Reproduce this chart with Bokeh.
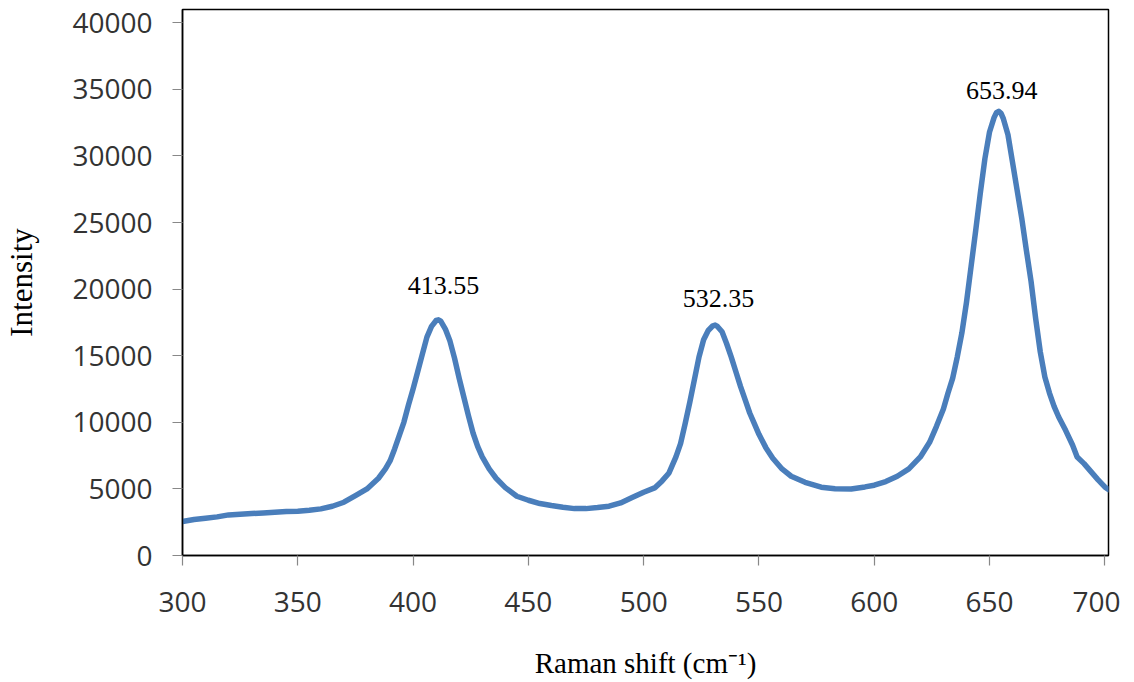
from bokeh.plotting import figure
from bokeh.models import Range1d, FixedTicker, NumeralTickFormatter, ColumnDataSource
from bokeh.core.properties import value
from bokeh.embed import file_html
from bokeh.resources import INLINE

# Raman spectrum
shift = [300, 305, 310, 315, 320, 325, 330, 335, 340, 345, 350, 355, 360, 365, 370,
         375, 380, 385, 388, 390, 392, 394, 396, 398, 400, 402, 404, 406, 408, 410,
         411, 412, 414, 416, 418, 420, 422, 424, 426, 428, 430, 433, 436, 440, 445,
         450, 455, 460, 465, 470, 475, 480, 485, 490, 495, 500, 505, 508, 511, 514,
         516, 518, 520, 522, 524, 526, 528, 530, 531, 532, 534, 536, 538, 540, 542,
         544, 546, 548, 550, 553, 556, 560, 564, 570, 577, 583, 590, 596, 600, 605,
         610, 615, 620, 624, 627, 630, 632, 634, 636, 638, 640, 642, 644, 646, 648,
         650, 652, 653, 654, 655, 656, 658, 660, 662, 664, 666, 668, 670, 672, 674,
         676, 678, 680, 683, 686, 688, 691, 694, 697, 700, 701.6]
intensity = [2550, 2700, 2800, 2900, 3050, 3100, 3150, 3200, 3250, 3300, 3320, 3400, 3500, 3700, 4000,
             4500, 5000, 5800, 6500, 7100, 8000, 9000, 10000, 11300, 12500, 13800, 15100, 16400, 17200, 17650,
             17700, 17600, 17000, 16100, 14800, 13300, 11900, 10500, 9200, 8200, 7400, 6500, 5800, 5100, 4450,
             4150, 3900, 3750, 3620, 3520, 3520, 3600, 3700, 3950, 4350, 4750, 5100, 5600, 6200, 7400,
             8400, 9900, 11500, 13200, 14900, 16200, 16900, 17250, 17300, 17200, 16800, 15900, 14900, 13800, 12700,
             11700, 10700, 9900, 9100, 8100, 7300, 6500, 5950, 5500, 5130, 5020, 5000, 5150, 5280, 5550,
             5950, 6500, 7400, 8500, 9700, 11000, 12200, 13300, 14900, 16700, 19000, 21700, 24400, 27200, 29800,
             31800, 32900, 33250, 33350, 33200, 32800, 31600, 29500, 27400, 25300, 22900, 20600, 17800, 15300, 13400,
             12200, 11200, 10400, 9400, 8300, 7400, 6900, 6300, 5700, 5150, 4950]

peak_labels = ["413.55", "532.35", "653.94"]
peak_x = [413.2, 532.5, 655.3]
peak_y = [20300, 19300, 34950]

x_ticks = [300, 350, 400, 450, 500, 550, 600, 650, 700]
y_ticks = [0, 5000, 10000, 15000, 20000, 25000, 30000, 35000, 40000]

W, H = 1120, 682
p = figure(width=W, height=H, output_backend="svg", toolbar_location=None,
           x_range=Range1d(300, 701.6), y_range=Range1d(0, 41000),
           min_border_left=182, min_border_right=W - 1108,
           min_border_top=9, min_border_bottom=H - 555)

p.line(shift, intensity, line_color="#4a7ebb", line_width=5.5, line_join="round", line_cap="round")

src = ColumnDataSource(dict(x=peak_x, y=peak_y, t=peak_labels))
p.text(x="x", y="y", text="t", source=src, text_align="center", text_baseline="alphabetic",
       text_font=value("Liberation Serif"), text_font_size="26px", text_color="black")

p.xgrid.visible = False
p.ygrid.visible = False
p.outline_line_color = "black"
p.outline_line_width = 1.5
p.outline_line_alpha = 1.0
p.background_fill_color = "white"
p.border_fill_color = "white"

for ax in (p.xaxis[0], p.yaxis[0]):
    ax.axis_line_color = "black"
    ax.axis_line_width = 1.5
    ax.major_tick_line_color = "#888888"
    ax.major_tick_line_width = 1.2
    ax.major_tick_out = 10
    ax.major_tick_in = 0
    ax.minor_tick_line_color = None
    ax.major_label_text_font = "Open Sans"
    ax.major_label_text_font_size = "28px"
    ax.major_label_text_color = "#333333"
    ax.axis_label_text_font = "Liberation Serif"
    ax.axis_label_text_font_style = "normal"
    ax.axis_label_text_color = "black"
    ax.formatter = NumeralTickFormatter(format="0")

p.xaxis[0].ticker = FixedTicker(ticks=x_ticks)
p.yaxis[0].ticker = FixedTicker(ticks=y_ticks)
p.xaxis[0].axis_label = "Raman shift (cm\u207b\u00b9)"
p.yaxis[0].axis_label = "Intensity"
p.xaxis[0].axis_label_text_font_size = "29px"
p.yaxis[0].axis_label_text_font_size = "31px"
p.xaxis[0].major_label_standoff = 26
p.yaxis[0].major_label_standoff = 20
p.xaxis[0].axis_label_standoff = 32
p.yaxis[0].axis_label_standoff = 30

open("out.html", "w").write(file_html(p, INLINE))
